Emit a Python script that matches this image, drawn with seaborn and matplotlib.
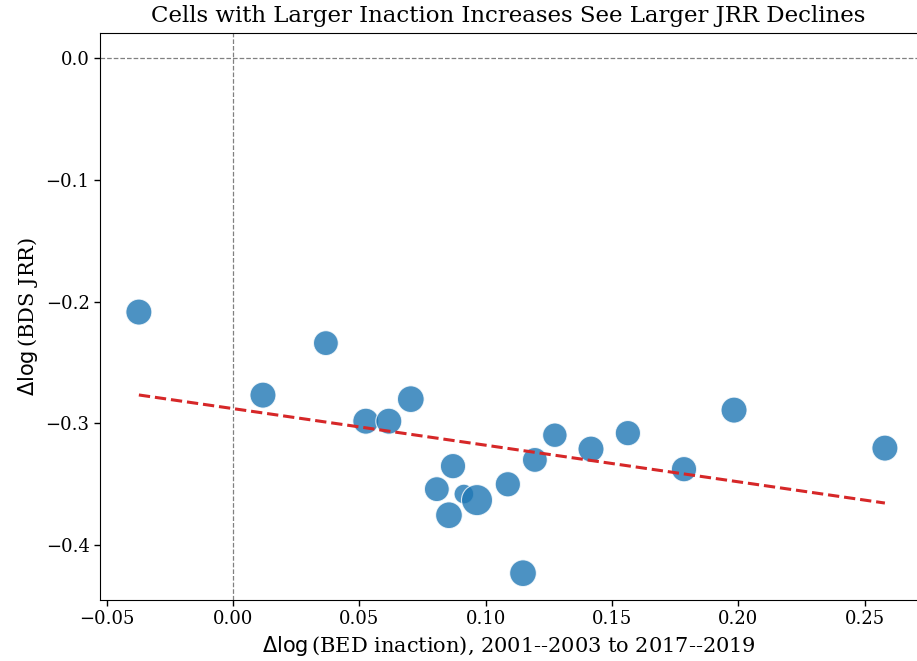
import numpy as np
import pandas as pd
import matplotlib
matplotlib.use("Agg")
import matplotlib.pyplot as plt
import seaborn as sns

# Data
d_inaction = [-0.0372, 0.0119, 0.0368, 0.0526, 0.0617, 0.0704, 0.0807, 0.0871,
              0.0855, 0.0914, 0.0966, 0.1088, 0.1195, 0.1148, 0.1274, 0.1417,
              0.1563, 0.1785, 0.1983, 0.2580]
d_jrr = [-0.2086, -0.2768, -0.2341, -0.2982, -0.2982, -0.2801, -0.3540, -0.3351,
         -0.3754, -0.3580, -0.3630, -0.3500, -0.3300, -0.4230, -0.3097, -0.3211,
         -0.3080, -0.3376, -0.2891, -0.3203]
weights = [350, 350, 320, 350, 350, 370, 320, 330,
           370, 200, 500, 330, 320, 370, 310, 350,
           330, 330, 350, 350]

df = pd.DataFrame({"x": d_inaction, "y": d_jrr, "w": weights})

sns.set_style("ticks")
plt.rcParams["font.family"] = ["DejaVu Serif"]
plt.rcParams["mathtext.fontset"] = "dejavusans"
for k in ["text.color", "axes.labelcolor", "xtick.color", "ytick.color", "axes.edgecolor"]:
    plt.rcParams[k] = "black"

fig = plt.figure(figsize=(9.17, 6.61), dpi=100)
ax = fig.add_axes([0.109, 0.0923, 0.891, 0.8577])

ax.axhline(0, color="gray", linestyle="--", linewidth=0.9, zorder=0)
ax.axvline(0, color="gray", linestyle="--", linewidth=0.9, zorder=0)

ax.scatter(df["x"], df["y"], s=df["w"], color="#1f77b4", alpha=0.8,
           edgecolor="white", linewidth=0.8, zorder=2)
sns.regplot(data=df, x="x", y="y", scatter=False, ci=None, ax=ax,
            line_kws=dict(color="#d62728", linestyle="--", linewidth=2.2, zorder=3))

ax.set_xlim(-0.0526, 0.2707)
ax.set_ylim(-0.445, 0.0205)
ax.set_xticks([-0.05, 0.0, 0.05, 0.10, 0.15, 0.20, 0.25])
ax.set_yticks([0.0, -0.1, -0.2, -0.3, -0.4])
ax.tick_params(labelsize=13, width=1, length=4)
ax.spines["right"].set_visible(False)

ax.set_title("Cells with Larger Inaction Increases See Larger JRR Declines",
             fontsize=16.5, pad=8)
ax.set_xlabel(r"$\Delta\log$(BED inaction), 2001--2003 to 2017--2019", fontsize=15)
ax.set_ylabel(r"$\Delta\log$(BDS JRR)", fontsize=15)

fig.savefig("out.png", dpi=100)
